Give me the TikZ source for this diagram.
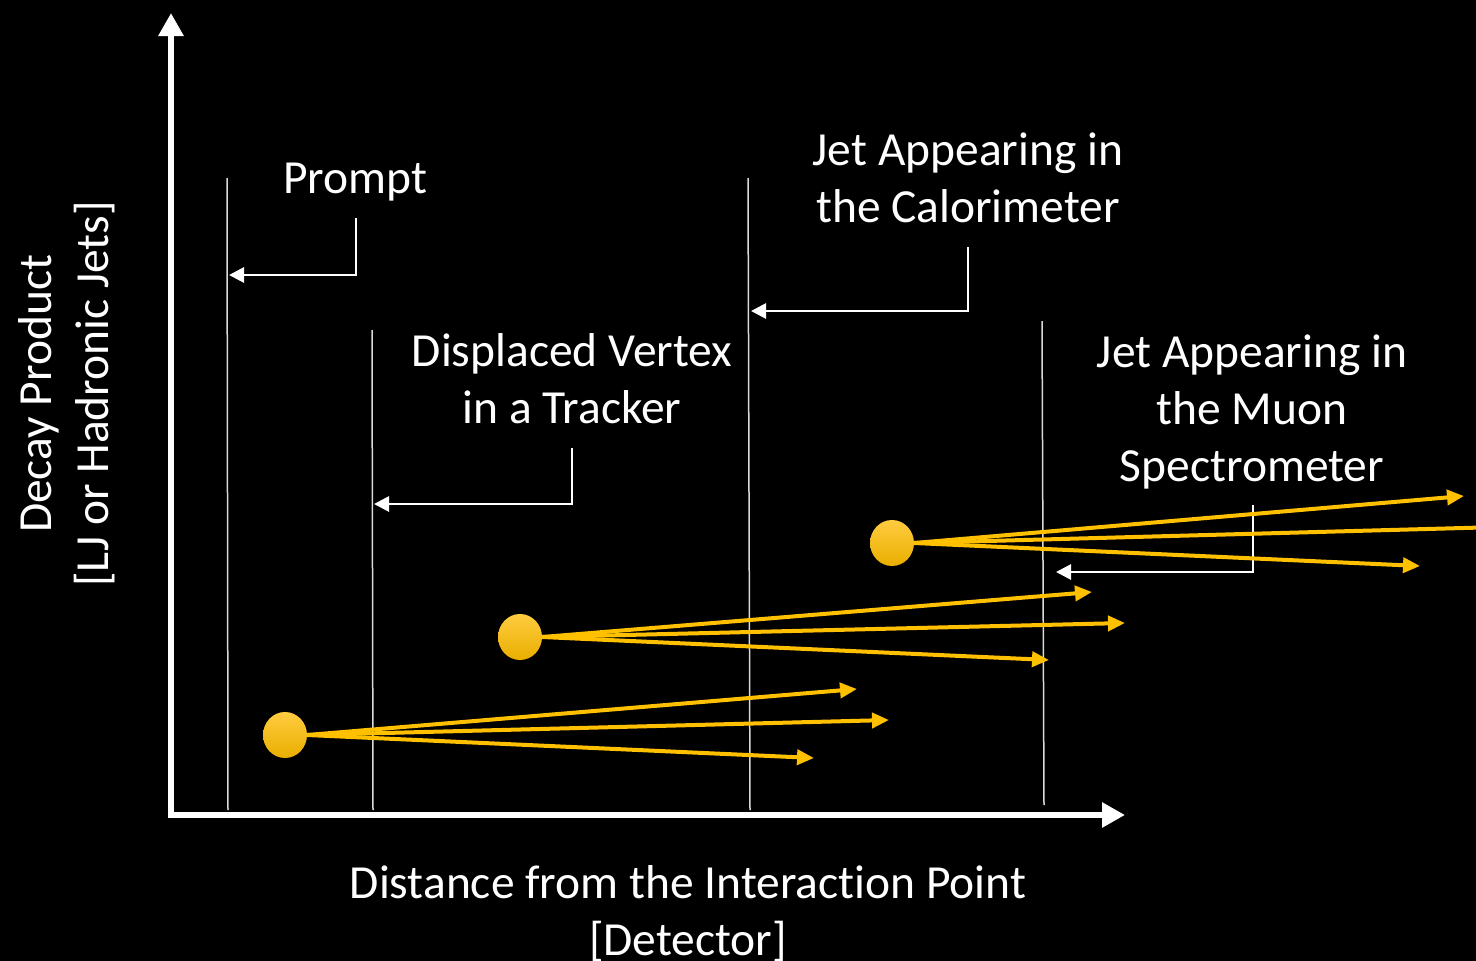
\documentclass[tikz,border=0pt]{standalone}
\usepackage{fontspec}
\setmainfont{Carlito}[Ligatures=NoCommon]
\usetikzlibrary{arrows.meta,shapes.geometric}
\definecolor{gold}{HTML}{FFC000}
\definecolor{goldtop}{HTML}{FFCC40}
\definecolor{goldbot}{HTML}{E9AE00}
\definecolor{thin}{HTML}{D9D9D9}
\tikzset{
  lbl/.style={text=white, inner sep=0pt, align=center, font=\fontsize{47.5}{57}\selectfont},
  axisline/.style={draw=white, line width=6.5pt, -{Triangle[length=23pt,width=24pt]}},
  zoneline/.style={draw=thin, line width=1.5pt},
  callout/.style={draw=white, line width=2.8pt, -{Triangle[length=15pt,width=15pt]}},
  jet/.style={draw=gold, line width=4pt, -{Triangle[length=17pt,width=15pt]}},
  jetnotip/.style={draw=gold, line width=4pt},
  particle/.style={ellipse, minimum width=44pt, minimum height=46pt, inner sep=0pt,
    top color=goldtop, bottom color=goldbot, draw=none},
}
\begin{document}
\begin{tikzpicture}[x=1pt,y=-1pt]
\fill[black] (0,0) rectangle (1476,961);
\clip (0,0) rectangle (1476,961);
\useasboundingbox (0,0) rectangle (1476,961);

% axes
\coordinate (o) at (171,815);
\coordinate (ytip) at (171,13);
\coordinate (xstart) at (168,815);
\coordinate (xtip) at (1125,815);
\draw[axisline] (o) -- (ytip);
\draw[axisline] (xstart) -- (xtip);

% zone lines
\coordinate (z1t) at (227,178); \coordinate (z1b) at (228,810);
\coordinate (z2t) at (372,330); \coordinate (z2b) at (373,810);
\coordinate (z3t) at (748,178); \coordinate (z3b) at (750,810);
\coordinate (z4t) at (1042,321); \coordinate (z4b) at (1044,805);
\draw[zoneline] (z1t) -- (z1b);
\draw[zoneline] (z2t) -- (z2b);
\draw[zoneline] (z3t) -- (z3b);
\draw[zoneline] (z4t) -- (z4b);

% labels (base anchor = baseline of last line)
\node[lbl, anchor=base] (prompt) at (355,193) {Prompt};
\node[lbl, anchor=base] (dv) at (572,423) {Displaced Vertex\\in a Tracker};
\node[lbl, anchor=base] (cal) at (968,222) {Jet Appearing in\\the Calorimeter};
\node[lbl, anchor=base] (muon) at (1252,481) {Jet Appearing in\\the Muon\\Spectrometer};

% callouts
\coordinate (p1) at (356,218); \coordinate (p2) at (229,275);
\draw[callout] (p1) |- (p2);
\coordinate (d1) at (572,448); \coordinate (d2) at (374,504);
\draw[callout] (d1) |- (d2);
\coordinate (c1) at (968,247); \coordinate (c2) at (751,311);
\draw[callout] (c1) |- (c2);
\coordinate (m1) at (1253,505); \coordinate (m2) at (1056,572);
\draw[callout] (m1) |- (m2);

% axis titles
\node[lbl, anchor=base] (xt) at (688,955) {Distance from the Interaction Point\\{}[Detector]};
\node[lbl, anchor=base, rotate=90] (yt) at (108,394) {Decay Product\\{}[LJ or Hadronic Jets]};

% particles and jets
\node[particle] (b1) at (285,735) {};
\node[particle] (b2) at (520,637) {};
\node[particle] (b3) at (892,543) {};

\coordinate (e11) at (857,689); \coordinate (e12) at (889,720); \coordinate (e13) at (814,758);
\coordinate (e21) at (1092,592); \coordinate (e22) at (1125,623); \coordinate (e23) at (1049,660);
\coordinate (e31) at (1464,496); \coordinate (e32) at (1500,527); \coordinate (e33) at (1420,566);

\draw[jet] (b1.east) -- (e11);
\draw[jet] (b1.east) -- (e12);
\draw[jet] (b1.east) -- (e13);
\draw[jet] (b2.east) -- (e21);
\draw[jet] (b2.east) -- (e22);
\draw[jet] (b2.east) -- (e23);
\draw[jet] (b3.east) -- (e31);
\draw[jetnotip] (b3.east) -- (e32);
\draw[jet] (b3.east) -- (e33);
\end{tikzpicture}
\end{document}
